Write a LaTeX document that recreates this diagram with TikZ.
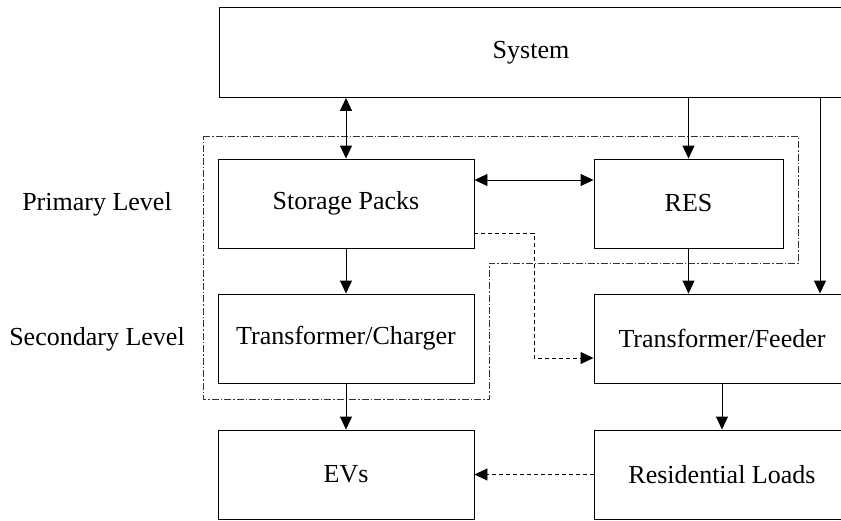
\documentclass[tikz,border=0pt]{standalone}
\usepackage{fontspec}
\setmainfont{Liberation Serif}
\usetikzlibrary{arrows.meta,calc}
\begin{document}
\begin{tikzpicture}[x=1pt,y=-1pt,
  box/.style={draw,line width=0.9pt,minimum height=89pt,inner sep=0pt,font=\fontsize{26}{30}\selectfont},
  wbox/.style={box,minimum width=256pt},
  lbl/.style={font=\fontsize{26}{30}\selectfont,inner sep=0pt},
  arr/.style={line width=0.9pt,-{Triangle[length=13pt,width=12pt]}},
  darr/.style={line width=0.9pt,{Triangle[length=13pt,width=12pt]}-{Triangle[length=13pt,width=12pt]}},
  dasharr/.style={line width=0.9pt,dash pattern=on 4pt off 3pt,-{Triangle[length=13pt,width=12pt]}},
  region/.style={line width=0.7pt,draw=black!80,dash pattern=on 7pt off 2pt on 1.5pt off 2pt}]
\useasboundingbox (0,0) rectangle (841,520);
\clip (0,0) rectangle (841,520);
\node[box,minimum width=624pt,minimum height=90pt] (sys) at (531,52.5) {System};
\node[wbox] (sp) at (346,203.5) {Storage Packs};
\node[box,minimum width=189pt] (res) at (688.5,203.5) {RES};
\node[wbox] (tc) at (346,338.5) {Transformer/Charger};
\node[wbox] (tf) at (722,338.5) {Transformer/Feeder};
\node[wbox] (ev) at (346,474.5) {EVs};
\node[wbox] (rl) at (722,474.5) {Residential Loads};
\node[lbl] (pl) at (97,204) {Primary Level};
\node[lbl] (sl) at (97,339) {Secondary Level};
\draw[region] (203,136) -- (798,136) -- (798,263) -- (489,263) -- (489,399) -- (203,399) -- cycle;
\draw[darr] (sys.south -| sp.north) -- (sp.north);
\draw[darr] (sp.east |- 0,180) -- (res.west |- 0,180);
\draw[arr] (sys.south -| res.north) -- (res.north);
\draw[arr] (sys.south -| 820,0) -- (tf.north -| 820,0);
\draw[arr] (res.south) -- (res.south |- tf.north);
\draw[arr] (sp.south) -- (tc.north);
\draw[arr] (tc.south) -- (ev.north);
\draw[arr] (tf.south) -- (rl.north);
\coordinate (d1) at (534,233);
\coordinate (d2) at (534,358);
\draw[dasharr] (sp.east |- d1) -- (d1) -- (d2) -- (tf.west |- d2);
\draw[dasharr] (rl.west) -- (ev.east);
\end{tikzpicture}
\end{document}
